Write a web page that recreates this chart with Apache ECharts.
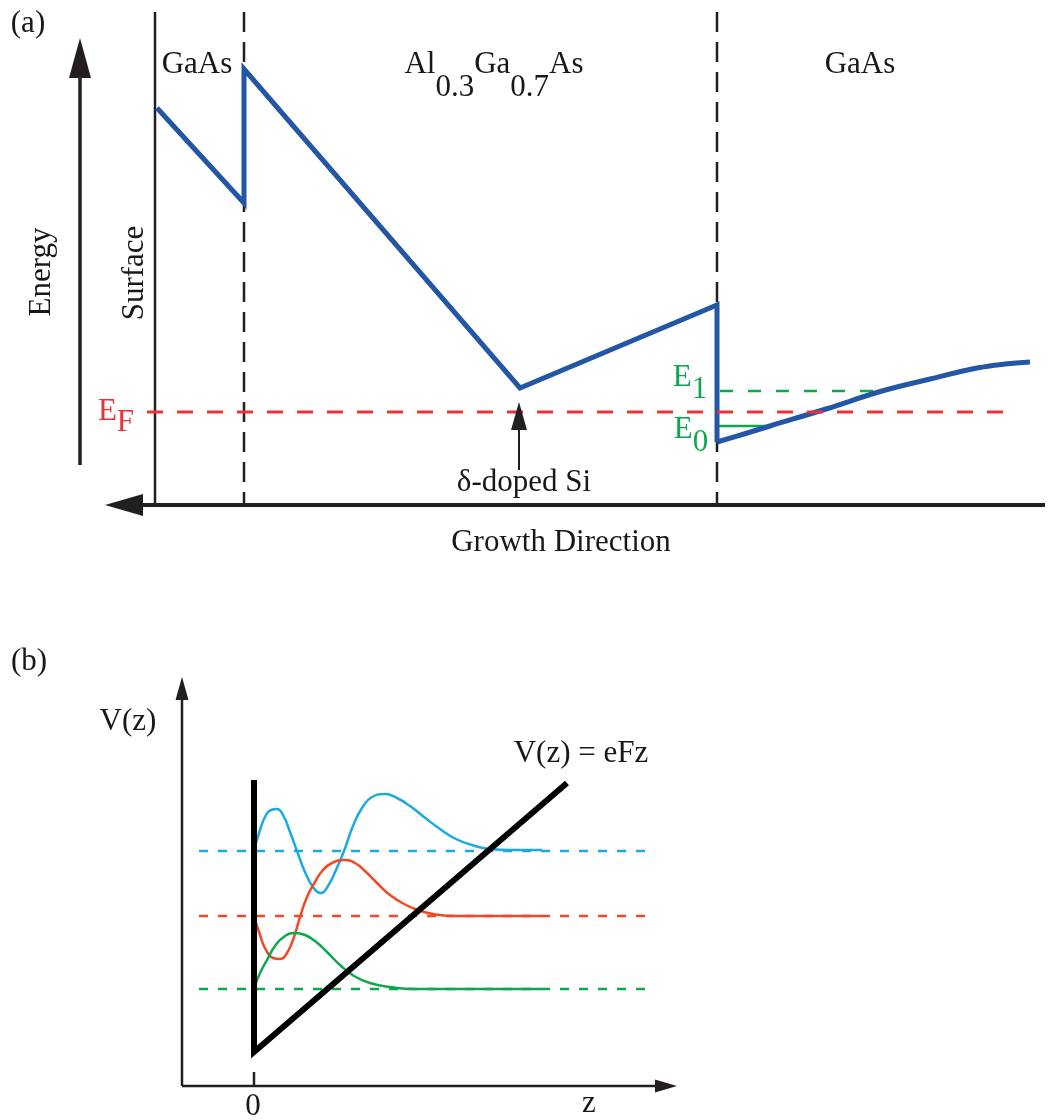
<!DOCTYPE html>
<html>
<head>
<meta charset="utf-8">
<script src="https://cdn.jsdelivr.net/npm/echarts@6/dist/echarts.min.js"></script>
<style>
html,body{margin:0;padding:0;background:#ffffff;}
#c{width:1049px;height:1120px;}
</style>
</head>
<body>
<div id="c"></div>
<script>
// ---------- Panel (a): band diagram (x = growth position, y = energy, page units) ----------
const bandEdgeA = [[157,108],[244,203],[244,69],[520,388],[717,305],[717,442]];
const bandTailA = [[717,442],[744,434],[770,426],[826,409],[882,391],[930,379],[977,368],[1005,364],[1030,362]];
const fermiLevelA = [[147,412],[1008,412]];
const level1A = [[720,391],[883,391]];
const level0A = [[718,426],[770,426]];
const surfaceA = [[155,12],[155,503]];
const interfacesA = [[[244,12],[244,503]], [[717,12],[717,503]]];
const arrowsA = [[80,465,80,38],[1045,505,105,505],[519,470,519,402]];

// ---------- Panel (b): triangular well and wavefunctions ----------
const potentialB = [[254,780],[254,1052],[567,783]];
const levelsB = { blue: 851, red: 916, green: 989 };
const levelSpanB = [199, 648];
const psiBlue = [[254,851],[260,830],[266,815],[271,810],[277,809],[283,815],[290,832],[297,851],[305,872],[313,887],[321,893],[328,886],[336,870],[344,851],[353,826],[362,808],[372,797],[385,794],[397,798],[410,806],[424,817],[440,829],[456,839],[472,845],[489,849],[510,850],[542,850]];
const psiRed = [[254,916],[260,935],[266,950],[273,958],[280,959],[287,953],[294,937],[300,917],[307,897],[315,882],[323,870],[332,863],[344,860],[355,863],[366,872],[378,884],[390,895],[404,904],[418,910],[433,914],[457,916],[542,916]];
const psiGreen = [[254,989],[260,973],[267,960],[275,946],[285,936],[295,933],[305,935],[315,941],[327,952],[340,965],[354,976],[370,983],[390,987],[415,989],[542,989]];
const tickB = [[254,1072],[254,1086]];
const arrowsB = [[182,1086,182,677],[182,1086,677,1086]];

// ---------- styles ----------
const FONT = "'Liberation Serif','Times New Roman','DejaVu Serif',serif";
const FS = 31;
const C = { black:'#231f20', text:'#1a1718', band:'#2356a5', red:'#ed3237', green:'#10a64f', cyan:'#1ba9e1', orange:'#ef4a25' };
// arrow head [length, width, shaft width]
const arrowStyleA = [[40,22,3.5],[38,22,4],[28,16,2]];
const arrowStyleB = [[23,13,2.5],[22,13,2.5]];

function lineSeries(data, color, width, type, z, smooth) {
  return {
    type:'line', data:data, showSymbol:false, symbol:'none', silent:true, animation:false,
    smooth: smooth || false, z: z,
    lineStyle:{color:color, width:width, type:type || 'solid', cap:'butt', join:'miter', opacity:1}
  };
}

function arrowSeries(arrows, styles, z) {
  return {
    type:'custom', silent:true, animation:false, z:z,
    data: arrows,
    renderItem: function(params, api) {
      const st = styles[params.dataIndex];
      const a = api.coord([api.value(0), api.value(1)]);
      const b = api.coord([api.value(2), api.value(3)]);
      const dx = b[0]-a[0], dy = b[1]-a[1];
      const len = Math.sqrt(dx*dx+dy*dy);
      const ux = dx/len, uy = dy/len, nx = -uy, ny = ux;
      const bx = b[0]-ux*st[0], by = b[1]-uy*st[0];
      return {
        type:'group',
        children:[
          {type:'line', shape:{x1:a[0], y1:a[1], x2:bx+ux*2, y2:by+uy*2},
           style:{stroke:C.black, lineWidth:st[2]}},
          {type:'polygon', shape:{points:[[b[0],b[1]],[bx+nx*st[1]/2, by+ny*st[1]/2],[bx-nx*st[1]/2, by-ny*st[1]/2]]},
           style:{fill:C.black}}
        ]
      };
    }
  };
}

// text annotations: anchor = centre of the main (non-subscript) glyphs
const sub = d => ({fontSize:FS, fontFamily:FONT, padding:[2*d,0,0,0]});
const nrm = {fontSize:FS, fontFamily:FONT};
const txt = (x, y, fmt, color, extra) => ({value:[x,y], label:Object.assign({formatter:fmt, color:color}, extra || {})});
const annotations = [
  txt(28, 24, '(a)', C.text),
  txt(29, 662, '(b)', C.text),
  txt(197, 65, 'GaAs', C.text),
  txt(860, 65, 'GaAs', C.text),
  txt(494, 65, '{n|Al}{s|0.3}{n|Ga}{s|0.7}{n|As}', C.text, {rich:{n:nrm, s:sub(23)}}),
  txt(42, 272, 'Energy', C.text, {rotate:90}),
  txt(135, 273, 'Surface', C.text, {rotate:90}),
  txt(116, 412, '{n|E}{s|F}', C.red, {rich:{n:nrm, s:sub(11)}}),
  txt(690, 378, '{n|E}{s|1}', C.green, {rich:{n:nrm, s:sub(12)}}),
  txt(691, 430, '{n|E}{s|0}', C.green, {rich:{n:nrm, s:sub(13)}}),
  txt(524, 483, 'δ-doped Si', C.text),
  txt(561, 543, 'Growth Direction', C.text),
  txt(128, 722, 'V(z)', C.text),
  txt(581, 754, 'V(z) = eFz', C.text),
  txt(253, 1107, '0', C.text),
  txt(589, 1104, 'z', C.text)
];

const series = [];
// panel (a)
interfacesA.forEach(p => series.push(lineSeries(p, C.black, 2.5, [20,10], 2)));
series.push(lineSeries(surfaceA, C.black, 2.5, 'solid', 2));
series.push(lineSeries(level1A, C.green, 2.5, [13,15], 3));
series.push(lineSeries(level0A, C.green, 2.5, 'solid', 3));
series.push(lineSeries(bandEdgeA, C.band, 5, 'solid', 4));
series.push(lineSeries(bandTailA, C.band, 5, 'solid', 4, 0.4));
series.push(lineSeries(fermiLevelA, C.red, 3, [16,14], 5));
series.push(arrowSeries(arrowsA, arrowStyleA, 6));
// panel (b)
series.push(lineSeries([[levelSpanB[0],levelsB.blue],[levelSpanB[1],levelsB.blue]], C.cyan, 2.5, [9,10], 2));
series.push(lineSeries([[levelSpanB[0],levelsB.red],[levelSpanB[1],levelsB.red]], C.orange, 2.5, [9,10], 2));
series.push(lineSeries([[levelSpanB[0],levelsB.green],[levelSpanB[1],levelsB.green]], C.green, 2.5, [9,10], 2));
series.push(lineSeries(psiBlue, C.cyan, 2.5, 'solid', 3, 0.5));
series.push(lineSeries(psiRed, C.orange, 2.5, 'solid', 3, 0.5));
series.push(lineSeries(psiGreen, C.green, 2.5, 'solid', 3, 0.5));
series.push(lineSeries(potentialB, '#000000', 6, 'solid', 4));
series.push(lineSeries(tickB, C.black, 2.5, 'solid', 4));
series.push(arrowSeries(arrowsB, arrowStyleB, 6));
// texts
series.push({
  type:'scatter', symbolSize:0, silent:true, animation:false, z:10,
  itemStyle:{opacity:1, color:'rgba(0,0,0,0)'},
  label:{show:true, position:'inside', align:'center', verticalAlign:'middle',
         fontFamily:FONT, fontSize:FS, color:C.text, opacity:1},
  data: annotations
});

const chart = echarts.init(document.getElementById('c'), null, {renderer:'canvas'});
chart.setOption({
  backgroundColor:'#ffffff',
  animation:false,
  grid:{left:0, right:0, top:0, bottom:0, containLabel:false},
  xAxis:{type:'value', min:0, max:1049, show:false},
  yAxis:{type:'value', min:0, max:1120, inverse:true, show:false},
  series: series
});
</script>
</body>
</html>
